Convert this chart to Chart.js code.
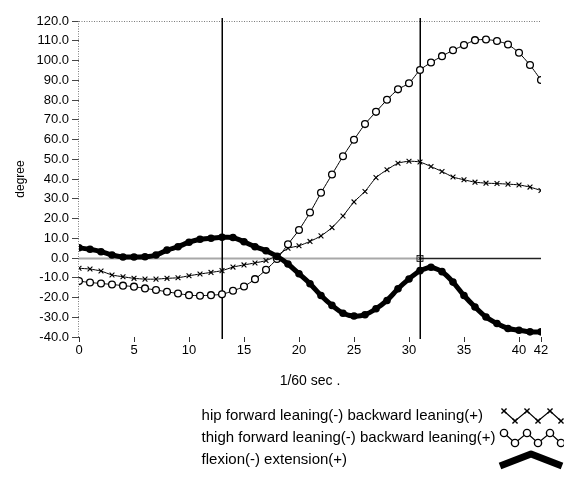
<!DOCTYPE html>
<html><head><meta charset="utf-8">
<script src="https://cdn.jsdelivr.net/npm/chart.js@4/dist/chart.umd.min.js"></script>
<style>html,body{margin:0;padding:0;background:#fff}canvas{display:block}</style>
</head><body>
<canvas id="c" width="564" height="484"></canvas>
<script>
// ---- data ----
const frames = [0,1,2,3,4,5,6,7,8,9,10,11,12,13,14,15,16,17,18,19,20,21,22,23,24,25,26,27,28,29,30,31,32,33,34,35,36,37,38,39,40,41,42];
const hipAngle = [-5.2,-5.6,-6.6,-8.6,-9.5,-10.3,-10.7,-10.7,-10.3,-10,-9,-8.1,-7.3,-6.4,-4.6,-3.5,-2.5,-1.3,1.2,4.9,6.2,8.4,11.2,15.4,21.3,28.4,33.7,40.7,44.7,48,49,48.6,46.3,43.8,41,39.6,38.4,37.9,37.7,37.4,37,35.9,34.2];
const thighAngle = [-11.7,-12.4,-12.9,-13.4,-14,-14.5,-15.4,-16.2,-17.1,-18,-18.8,-19.1,-18.8,-18.4,-16.6,-14.4,-10.7,-6,-0.5,7,14.2,23,33,42.3,51.5,59.9,67.8,74,80.1,85.4,88.5,95.2,99,102.2,105.2,107.8,110.3,110.6,109.9,108.1,103.9,97.7,90.1];
const kneeAngle = [5.2,4.4,3.2,1.5,0.5,0.5,0.6,1.5,4,5.7,8,9.5,10,10.5,10.4,8.2,5.7,3.7,0.8,-3,-8,-13,-19,-24,-28,-29.4,-28.7,-25.7,-21.5,-15.6,-10.6,-6.4,-4.7,-6.9,-12.2,-19,-24.8,-29.9,-33.2,-35.7,-36.6,-37.4,-37.4];
const seriesLabels = ['hip forward leaning(-) backward leaning(+)', 'thigh forward leaning(-) backward leaning(+)', 'flexion(-) extension(+)'];
const xTickValues = [0,5,10,15,20,25,30,35,40,42];
const yRange = [-40, 120];
const yStep = 10;
const markerTimes = [13, 31];
const xTitle = '1/60 sec .';
const yTitle = 'degree';

const FONT = '"Liberation Sans", Arial, sans-serif';
Chart.defaults.font.family = FONT;
Chart.defaults.color = '#000';

const toPts = arr => frames.map((t, i) => ({x: t, y: arr[i]}));

const refLines = {
  id: 'refLines',
  beforeDatasetsDraw(chart) {
    const {ctx, chartArea: {left, right, top, bottom}} = chart;
    const xs = chart.scales.x, ys = chart.scales.y;
    const line = (x1, y1, x2, y2) => { ctx.beginPath(); ctx.moveTo(x1, y1); ctx.lineTo(x2, y2); ctx.stroke(); };
    ctx.save();
    ctx.strokeStyle = '#7a7a7a'; ctx.lineWidth = 1; ctx.setLineDash([1, 1.5]);
    line(left, top + 0.5, right, top + 0.5);
    line(left - 0.5, top, left - 0.5, bottom);
    ctx.setLineDash([]);
    const y0 = Math.round(ys.getPixelForValue(0)) + 0.5;
    const xm = xs.getPixelForValue(markerTimes[1]);
    ctx.strokeStyle = '#a8a8a8'; ctx.lineWidth = 2;
    line(left, y0, xm, y0);
    ctx.strokeStyle = '#222'; ctx.lineWidth = 1.3;
    line(xm, y0, right, y0);
    ctx.strokeStyle = '#000'; ctx.lineWidth = 1.5;
    markerTimes.forEach(t => {
      const x = Math.round(xs.getPixelForValue(t)) + 0.25;
      line(x, top - 3, x, bottom + 2);
    });
    ctx.lineWidth = 0.8;
    Chart.helpers.drawPoint(ctx, {pointStyle: 'crossRot', radius: 3, borderWidth: 0.8, rotation: 0}, xm, y0);
    ctx.strokeRect(xm - 3, y0 - 3, 6, 6);
    ctx.restore();
  }
};

const sideLegend = {
  id: 'sideLegend',
  afterDraw(chart) {
    const ctx = chart.ctx;
    ctx.save();
    ctx.font = '15px ' + FONT;
    ctx.fillStyle = '#000'; ctx.textBaseline = 'middle'; ctx.textAlign = 'left';
    const left = 483 - ctx.measureText(chart.data.datasets[0].label).width;
    const rowY = [416, 438, 460];
    chart.data.datasets.forEach((ds, i) => {
      const y = rowY[i];
      ctx.fillStyle = '#000';
      ctx.fillText(ds.label, left, y);
      ctx.strokeStyle = '#000';
      if (i < 2) {
        const vx = [504, 515, 527, 538, 550, 561];
        const vy = vx.map((_, k) => k % 2 === 0 ? y - 5 : y + 5);
        ctx.lineWidth = 1.2;
        ctx.beginPath(); vx.forEach((x, k) => k ? ctx.lineTo(x, vy[k]) : ctx.moveTo(x, vy[k])); ctx.stroke();
        vx.forEach((x, k) => {
          ctx.fillStyle = i === 0 ? '#000' : '#fff';
          ctx.lineWidth = 1.4;
          Chart.helpers.drawPoint(ctx, {pointStyle: ds.pointStyle, radius: 3.6, borderWidth: 1.4, rotation: 0}, x, vy[k]);
        });
      } else {
        ctx.lineWidth = 7; ctx.lineJoin = 'round';
        ctx.beginPath(); ctx.moveTo(500, y + 6); ctx.lineTo(531, y - 6); ctx.lineTo(562, y + 6); ctx.stroke();
      }
    });
    ctx.restore();
  }
};

new Chart(document.getElementById('c').getContext('2d'), {
  type: 'line',
  data: {
    datasets: [
      {label: seriesLabels[0], data: toPts(hipAngle), borderColor: '#000', borderWidth: 1,
       pointStyle: 'crossRot', pointRadius: 3.4, pointBorderWidth: 1.1, pointBorderColor: '#000', pointBackgroundColor: '#000', tension: 0.2, order: 2},
      {label: seriesLabels[1], data: toPts(thighAngle), borderColor: '#000', borderWidth: 1,
       pointStyle: 'circle', pointRadius: 3.4, pointBorderWidth: 1.3, pointBorderColor: '#000', pointBackgroundColor: '#fff', tension: 0.2, order: 1},
      {label: seriesLabels[2], data: toPts(kneeAngle), borderColor: '#000', borderWidth: 5,
       pointStyle: 'circle', pointRadius: 3.8, pointBorderWidth: 0, pointBackgroundColor: '#000', tension: 0.2, order: 0}
    ]
  },
  options: {
    responsive: false, animation: false, devicePixelRatio: 1,
    layout: {padding: {top: 21, right: 23, bottom: 94, left: 0}},
    plugins: {legend: {display: false}, tooltip: {enabled: false}},
    scales: {
      x: {
        type: 'linear', min: frames[0], max: frames[frames.length - 1],
        afterBuildTicks: s => { s.ticks = xTickValues.map(v => ({value: v})); },
        afterFit: s => { s.height = 53; },
        ticks: {autoSkip: false, maxRotation: 0, padding: 1, font: {size: 13}, color: '#000', callback: v => String(v)},
        grid: {drawOnChartArea: false, drawTicks: true, tickLength: 5, tickColor: '#333'},
        border: {display: false},
        title: {display: true, text: xTitle, font: {size: 14}, color: '#000', padding: {top: 0, bottom: 0}}
      },
      y: {
        min: yRange[0], max: yRange[1],
        afterFit: s => { s.width = 79; },
        ticks: {stepSize: yStep, autoSkip: false, padding: 3, font: {size: 13}, color: '#000', callback: v => Number(v).toFixed(1)},
        grid: {drawOnChartArea: false, tickLength: 7, tickColor: '#444'},
        border: {display: false},
        title: {display: true, text: yTitle, font: {size: 12}, color: '#000', padding: {top: 13, bottom: 0}}
      }
    }
  },
  plugins: [refLines, sideLegend]
});
</script>
</body></html>
